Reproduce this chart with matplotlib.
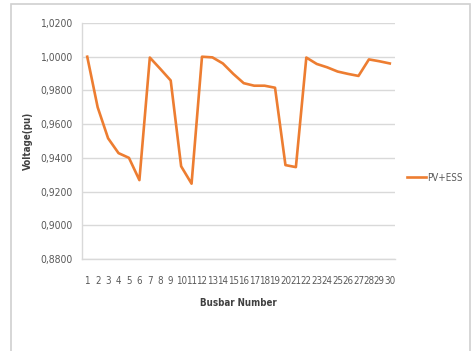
import matplotlib
matplotlib.use("Agg")
import matplotlib.pyplot as plt
from matplotlib.patches import Rectangle
from matplotlib.ticker import FuncFormatter

plt.rcParams['font.family'] = ['DejaVu Sans']
plt.rcParams['font.stretch'] = 'condensed'

busbar = list(range(1, 31))
voltage = [1.0000, 0.9700, 0.9516, 0.9428, 0.9400, 0.9268, 0.9995, 0.9928, 0.9859, 0.9350,
           0.9247, 1.0000, 0.9996, 0.9960, 0.9898, 0.9843, 0.9828, 0.9828, 0.9816, 0.9357,
           0.9345, 0.9995, 0.9957, 0.9937, 0.9912, 0.9898, 0.9886, 0.9984, 0.9973, 0.9960]
yticks = [0.88, 0.90, 0.92, 0.94, 0.96, 0.98, 1.00, 1.02]

fig = plt.figure(figsize=(4.73, 3.51), dpi=100)
ax = fig.add_axes([0.1734, 0.2621, 0.6617, 0.6724])

# outer chart frame
fig.patches.append(Rectangle((11 / 473, -0.1), 459 / 473, 1.1 - 4 / 351,
                             transform=fig.transFigure, fill=False,
                             edgecolor='#d0d0d0', linewidth=1.2))

ax.plot(busbar, voltage, color='#ED7D31', linewidth=1.9, label='PV+ESS')

ax.set_xlim(0.5, 30.5)
ax.set_ylim(0.88, 1.02)
ax.set_xticks(busbar)
ax.set_xticklabels([str(b) for b in busbar])
ax.set_yticks(yticks)
ax.yaxis.set_major_formatter(FuncFormatter(lambda v, p: f"{v:.4f}".replace('.', ',')))
ax.tick_params(axis='y', length=0, labelsize=7.5, colors='#595959', pad=7)
ax.tick_params(axis='x', length=0, labelsize=7, colors='#595959', pad=12)

ax.grid(axis='y', color='#d9d9d9', linewidth=1.0)
ax.set_axisbelow(True)
for s in ['top', 'right']:
    ax.spines[s].set_visible(False)
for s in ['left', 'bottom']:
    ax.spines[s].set_color('#d9d9d9')
    ax.spines[s].set_linewidth(1.0)

ax.set_xlabel('Busbar Number', fontsize=7, fontweight='bold', color='#404040', labelpad=9)
ax.set_ylabel('Voltage(pu)', fontsize=7, fontweight='bold', color='#404040', labelpad=5)

ax.legend(loc='center left', bbox_to_anchor=(1.01, 0.345), frameon=False,
          fontsize=7, handlelength=2.0, handletextpad=0.1, labelcolor='#595959')

fig.savefig('out.png', dpi=100)
